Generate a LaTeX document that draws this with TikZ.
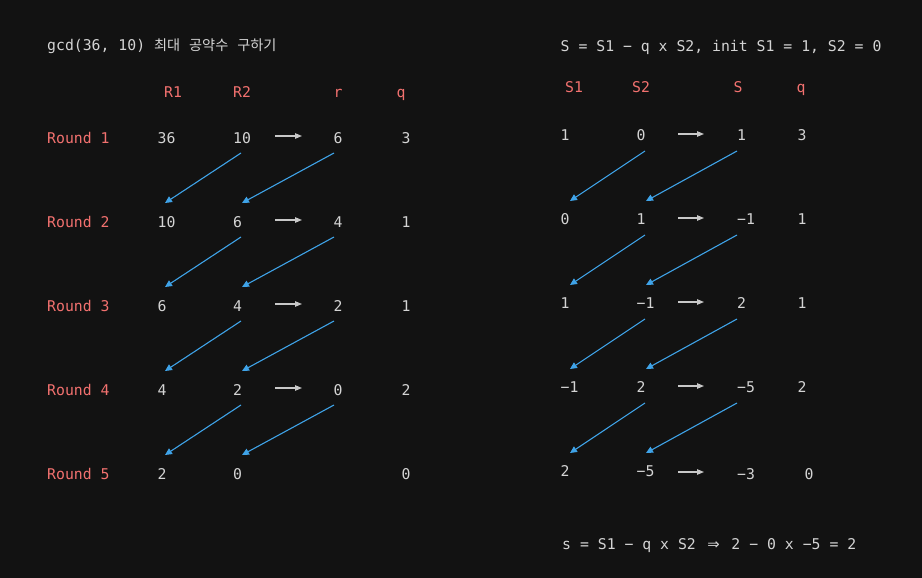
\documentclass[tikz,border=0pt]{standalone}
\usepackage{fontspec}
\setmonofont{DejaVu Sans Mono}
\newfontfamily\krfont[Scale=0.96]{Noto Sans CJK KR}
\newfontfamily\arrfont{DejaVu Sans}
\usetikzlibrary{arrows.meta}
\definecolor{bgc}{HTML}{121212}
\definecolor{fgc}{HTML}{D4D4D4}
\definecolor{redc}{HTML}{F2716F}
\definecolor{bluec}{HTML}{3FA3E8}
\definecolor{wac}{HTML}{C8C8C8}
\begin{document}
\begin{tikzpicture}[x=1pt,y=-1pt,
  every node/.style={inner sep=0pt, font=\ttfamily\fontsize{14.8}{18}\selectfont,
    text height=10.8pt, text depth=0pt, anchor=west, text=fgc},
  lbl/.style={text=redc},
  hdr/.style={text=redc, anchor=center},
  barr/.style={draw=bluec, line width=1.1pt, -{Triangle[length=7pt,width=6.5pt]}},
  warr/.style={draw=wac, line width=1.1pt, -{Triangle[length=7pt,width=5.5pt]}}]
\useasboundingbox (0,0) rectangle (922,578);
\fill[bgc] (0,0) rectangle (922,578);

% ---------- left part ----------
\node (t1) at (47,45) {gcd(36, 10) {\krfont 최대} {\krfont 공약수} {\krfont 구하기}};
\node[hdr] (hR1) at (173,92) {R1};
\node[hdr] (hR2) at (242,92) {R2};
\node[hdr] (hr)  at (338,92) {r};
\node[hdr] (hq)  at (401,92) {q};

\node[lbl] (rd1) at (47,138) {Round 1};
\node[lbl] (rd2) at (47,222) {Round 2};
\node[lbl] (rd3) at (47,306) {Round 3};
\node[lbl] (rd4) at (47,390) {Round 4};
\node[lbl] (rd5) at (47,474) {Round 5};

\node (a1) at (157.5,138) {36};
\node (a2) at (157.5,222) {10};
\node (a3) at (157.5,306) {6};
\node (a4) at (157.5,390) {4};
\node (a5) at (157.5,474) {2};

\node (b1) at (233,138) {10};
\node (b2) at (233,222) {6};
\node (b3) at (233,306) {4};
\node (b4) at (233,390) {2};
\node (b5) at (233,474) {0};

\node (c1) at (333.5,138) {6};
\node (c2) at (333.5,222) {4};
\node (c3) at (333.5,306) {2};
\node (c4) at (333.5,390) {0};

\node (d1) at (401.5,138) {3};
\node (d2) at (401.5,222) {1};
\node (d3) at (401.5,306) {1};
\node (d4) at (401.5,390) {2};
\node (d5) at (401.5,474) {0};

\foreach \i/\j in {1/2,2/3,3/4,4/5}{
  \draw[barr] ([shift={(8,15)}]b\i.west) -- ([shift={(7.5,-19)}]a\j.west);
  \draw[barr] ([shift={(0.5,15)}]c\i.west) -- ([shift={(9,-19)}]b\j.west);
  \draw[warr] ([shift={(-58.5,-2)}]c\i.west) -- ([shift={(-31.5,-2)}]c\i.west);
}

% ---------- right part ----------
\node (t2) at (560.5,46) {S = S1 − q x S2, init S1 = 1, S2 = 0};
\node[hdr] (hS1) at (574,87) {S1};
\node[hdr] (hS2) at (641,87) {S2};
\node[hdr] (hS)  at (738,87) {S};
\node[hdr] (hq2) at (801,87) {q};

\node (e1) at (560.5,135) {1};
\node (e2) at (560.5,219) {0};
\node (e3) at (560.5,303) {1};
\node (e4) at (560.5,387) {−1};
\node (e5) at (560.5,471) {2};

\node (f1) at (636.5,135) {0};
\node (f2) at (636.5,219) {1};
\node (f3) at (636.5,303) {−1};
\node (f4) at (636.5,387) {2};
\node (f5) at (636.5,471) {−5};

\node (g1) at (737,135) {1};
\node (g2) at (737,219) {−1};
\node (g3) at (737,303) {2};
\node (g4) at (737,387) {−5};
\node (g5) at (737,474) {−3};

\node (h1) at (797.5,135) {3};
\node (h2) at (797.5,219) {1};
\node (h3) at (797.5,303) {1};
\node (h4) at (797.5,387) {2};
\node (h5) at (804.5,474) {0};

\foreach \i/\j in {1/2,2/3,3/4,4/5}{
  \draw[barr] ([shift={(8.5,16)}]f\i.west) -- ([shift={(9.5,-18)}]e\j.west);
  \draw[barr] ([shift={(0,16)}]g\i.west) -- ([shift={(9.5,-18)}]f\j.west);
  \draw[warr] ([shift={(-59,-1)}]g\i.west) -- ([shift={(-33,-1)}]g\i.west);
}
\draw[warr] ([shift={(-59,-2)}]g5.west) -- ([shift={(-33,-2)}]g5.west);

\node (t3) at (562,544) {s = S1 − q x S2 \makebox[1.204em]{\arrfont ⇒} 2 − 0 x −5 = 2};
\end{tikzpicture}
\end{document}
